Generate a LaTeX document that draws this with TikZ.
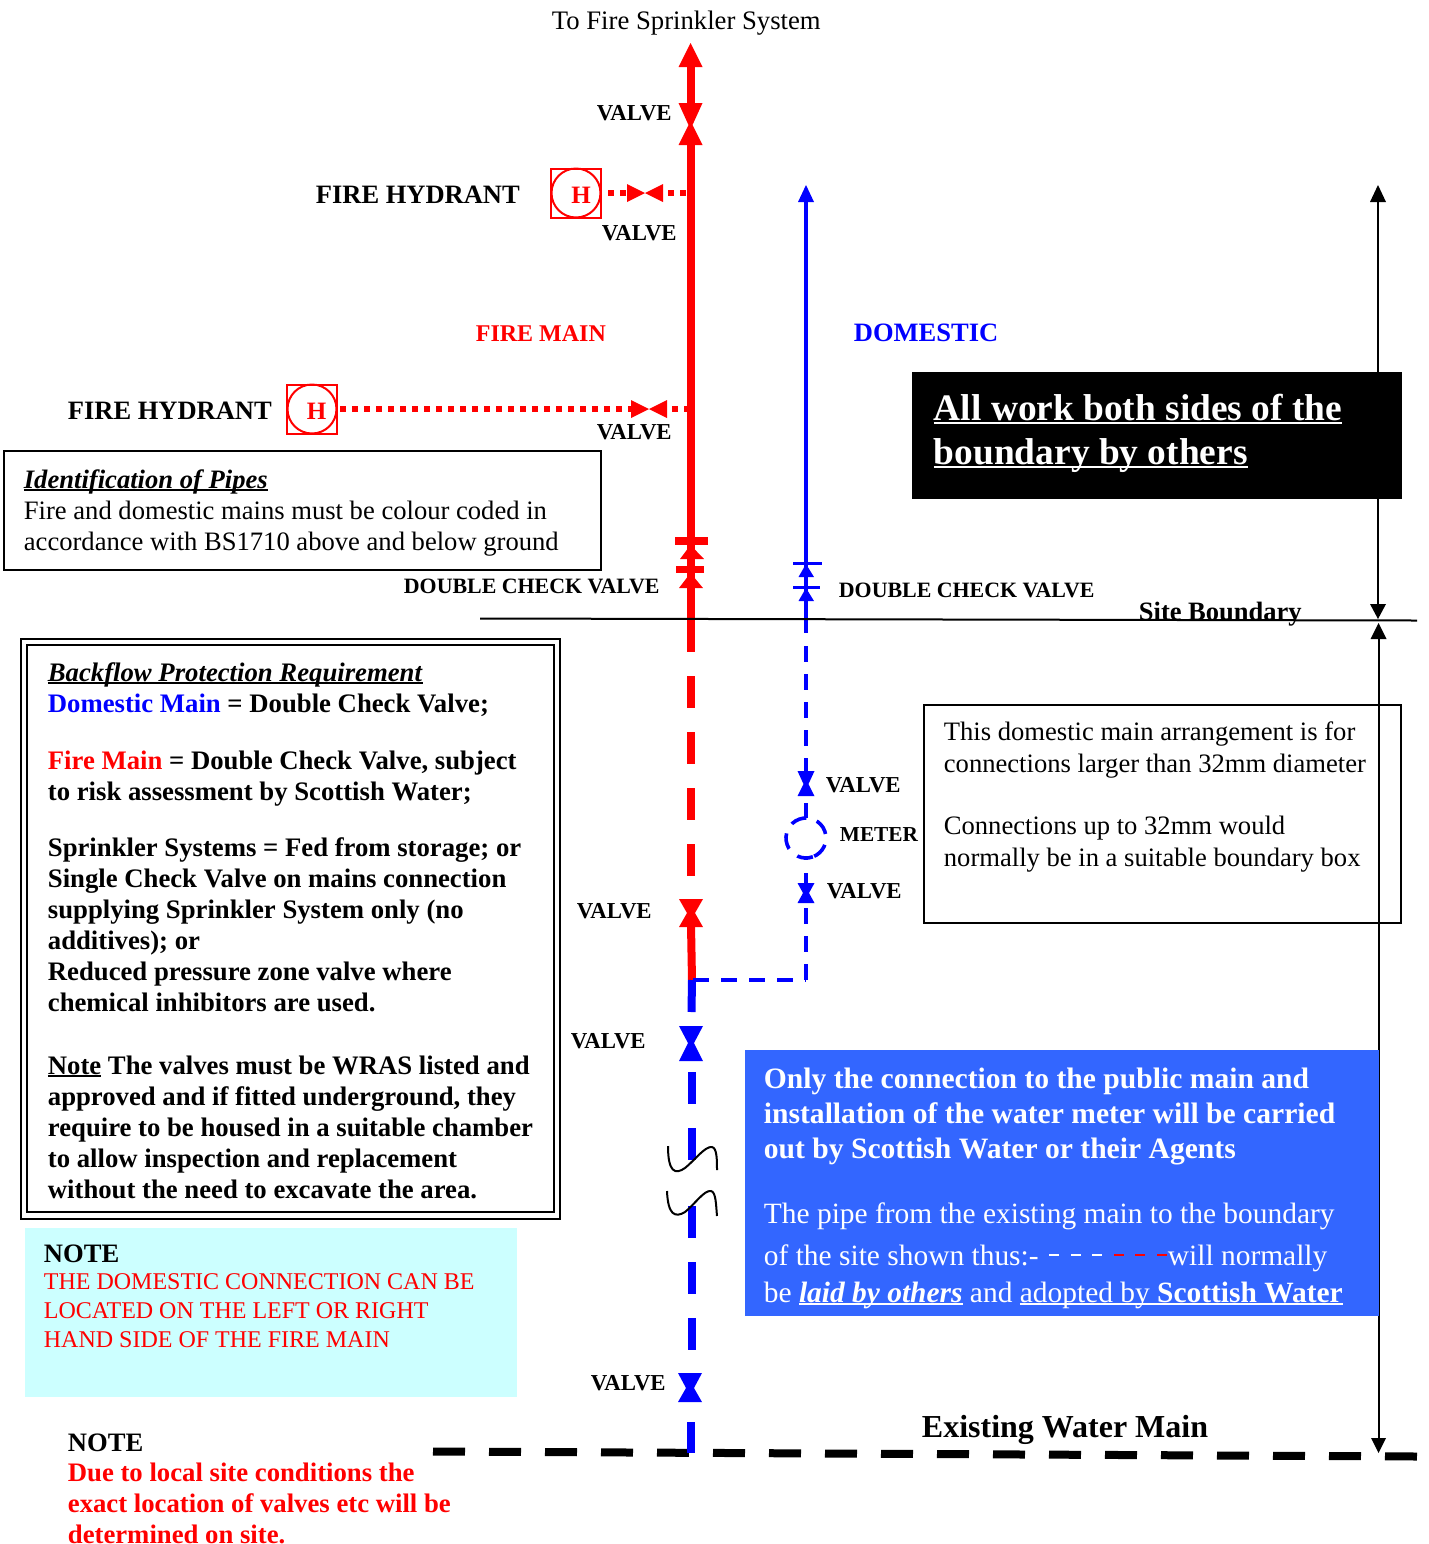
\documentclass[tikz,border=0pt]{standalone}
\usepackage{fontspec}
\setmainfont{Liberation Serif}
\definecolor{fblue}{HTML}{0000FF}
\definecolor{fred}{HTML}{FF0000}
\definecolor{panelblue}{HTML}{3366FF}
\definecolor{panelcyan}{HTML}{CCFFFF}
\newcommand\myul[2][1.6pt]{\setbox0\hbox{#2}\rlap{\rule[-#1]{\wd0}{1pt}}\box0\relax}
% hourglass: x, top y, waist y, bottom y, half width, waist half width, colour
\newcommand\valveshape[7]{\fill[#7] (#1-#5,#2) -- (#1+#5,#2) -- (#1+#6,#3) -- (#1+#5,#4) -- (#1-#5,#4) -- (#1-#6,#3) -- cycle;}
\tikzset{
  lbl/.style={inner sep=0pt,anchor=base west,font=\fontsize{11.4}{14}\selectfont\bfseries},
  dcvlbl/.style={inner sep=0pt,anchor=base west,font=\fontsize{10.95}{14}\selectfont\bfseries},
  big/.style={inner sep=0pt,anchor=base west,font=\fontsize{13.25}{15.5}\selectfont\bfseries},
  body/.style={inner sep=0pt,anchor=base west,align=left,font=\fontsize{13.3}{15.5}\selectfont},
  notebody/.style={inner sep=0pt,anchor=base west,align=left,font=\fontsize{13.3}{16}\selectfont},
  bodybf/.style={inner sep=0pt,anchor=base west,align=left,font=\fontsize{13.36}{15.5}\selectfont\bfseries},
  panelbf/.style={inner sep=0pt,anchor=base west,align=left,text=white,font=\fontsize{14.8}{17.3}\selectfont\bfseries},
  panelrm/.style={inner sep=0pt,anchor=base west,text=white,font=\fontsize{14.72}{17}\selectfont},
  redmain/.style={draw=fred,line width=4pt},
  bluemain/.style={draw=fblue,line width=4pt},
  bluedash/.style={draw=fblue,line width=2pt,dash pattern=on 8pt off 6pt},
  dots/.style={draw=fred,line width=3pt,dash pattern=on 3pt off 3pt},
  reddash/.style={draw=fred,line width=4pt,dash pattern=on 16pt off 12pt},
  bigblue/.style={draw=fblue,line width=4pt,dash pattern=on 16pt off 12pt},
  squig/.style={draw=black,line width=1pt},
}
\begin{document}
\begin{tikzpicture}[x=0.5pt,y=-0.5pt]
\useasboundingbox (0,0) rectangle (1429,1544);
% pipes: fire main
\coordinate (rt) at (690.5,60);
\coordinate (rv1) at (690.5,103);
\draw[redmain] (rt) -- (rv1);
\fill[fred] (690.5,43) -- (702.5,67) -- (678.5,67) -- cycle;
\valveshape{690.5}{103}{125}{145}{12}{2}{fred}
\draw[redmain] (690.5,140) -- (690.5,652);
\fill[fred] (675,537) rectangle (708,545);
\fill[fred] (690.5,545) -- (704,559) -- (680,559) -- cycle;
\fill[fred] (676,566) rectangle (704,573);
\fill[fred] (690.5,573) -- (703,588) -- (679,588) -- cycle;
\draw[reddash] (690.5,676) -- (690.5,880);
\valveshape{691}{899}{913}{927}{12}{4}{fred}
\draw[redmain] (691,925) -- (692,980);
% blue main
\draw[bluemain] (692,980) -- (691.5,1012);
\valveshape{691}{1026}{1043}{1061}{12}{3}{fblue}
\draw[bigblue] (692,1072) -- (692,1160);
\draw[bigblue] (692,1206) -- (692,1350);
\valveshape{690}{1373}{1388}{1402}{12}{4}{fblue}
\draw[draw=black,line width=4pt,dash pattern=on 16pt off 12pt] (433,1451.5) -- (1417,1456.5);
\draw[bluemain] (691,1422) -- (691,1453);
% domestic
\fill[fblue] (806,185) -- (814,202) -- (798,202) -- cycle;
\draw[fblue,line width=2pt] (806,198) -- (806,633);
\fill[fblue] (793,561.5) rectangle (822,565);
\fill[fblue] (806,564) -- (814,577) -- (798.5,577) -- cycle;
\fill[fblue] (793,585.5) rectangle (820,589);
\fill[fblue] (806,588) -- (814,601) -- (798.5,601) -- cycle;
\draw[bluedash] (806,646) -- (806,772);
\valveshape{806}{771}{784}{796}{8.5}{2.5}{fblue}
\draw[fblue,line width=2pt] (806,803) -- (806,818);
\draw[fblue,line width=1.8pt,dash pattern=on 8pt off 5.5pt] (806,838) ++(70:20) arc (70:430:20);
\draw[fblue,line width=2pt] (806,856) -- (806,860);
\draw[fblue,line width=2pt] (806,873) -- (806,884);
\valveshape{806}{883}{893}{903}{8.5}{3}{fblue}
\draw[bluedash] (806,908) -- (806,980);
\draw[fblue,line width=2pt,dash pattern=on 8pt off 6pt] (693,980) -- (806,980);
% hydrants
\node[draw=fred,line width=1pt,minimum width=25pt,minimum height=24.5pt,inner sep=0pt] (hb1) at (576,193) {};
\node[draw=fred,line width=1pt,circle,minimum size=24.5pt,inner sep=0pt] (hc1) at (576,193) {};
\node[anchor=base west,inner sep=0pt,text=fred,font=\fontsize{12.5}{14}\selectfont\bfseries] (h1) at (571,203) {H};
\draw[dots] (608,193) -- (627,193);
\fill[fred] (627,184) -- (645,193) -- (627,202) -- cycle;
\fill[fred] (663,184) -- (645,193) -- (663,202) -- cycle;
\draw[dots] (668,193) -- (688,193);
\node[draw=fred,line width=1pt,minimum width=25pt,minimum height=24.5pt,inner sep=0pt] (hb2) at (312,409) {};
\node[draw=fred,line width=1pt,circle,minimum size=24.5pt,inner sep=0pt] (hc2) at (312,409) {};
\node[anchor=base west,inner sep=0pt,text=fred,font=\fontsize{12.5}{14}\selectfont\bfseries] (h2) at (306.5,419) {H};
\draw[dots] (340,409) -- (631,409);
\fill[fred] (631,400) -- (649,409) -- (631,418) -- cycle;
\fill[fred] (667,400) -- (649,409) -- (667,418) -- cycle;
\draw[dots] (672,409) -- (688,409);
% boundary & dimension arrows
\draw[black,line width=1pt] (480,618.5) -- (1417,620.5);
\draw[black,line width=1pt] (1378,195) -- (1378,610);
\fill[black] (1378,185) -- (1386,202) -- (1370,202) -- cycle;
\fill[black] (1370,604) -- (1386,604) -- (1378,619) -- cycle;
\draw[black,line width=1pt] (1378.5,630) -- (1378.5,1445);
\fill[black] (1378.5,623) -- (1386.5,639) -- (1370.5,639) -- cycle;
\fill[black] (1371,1438) -- (1386,1438) -- (1378.5,1453) -- cycle;
% break symbols
\draw[squig] (668,1146) .. controls (668,1172) and (675,1175) .. (685,1168) .. controls (695,1160) and (705,1146) .. (712,1147) .. controls (717,1148) and (717,1160) .. (717,1170);
\draw[squig] (667,1191) .. controls (668,1215) and (675,1218) .. (685,1212) .. controls (695,1204) and (704,1190) .. (711,1191) .. controls (716,1192) and (716,1205) .. (717,1216);
% panels
\node[draw=black,line width=1pt,fill=white,anchor=north west,minimum width=298.5pt,minimum height=59.5pt,inner sep=0pt] (idbox) at (3,450) {};
\node[fill=black,anchor=north west,minimum width=245pt,minimum height=63.5pt,inner sep=0pt] (blackbox) at (912,372) {};
\node[draw=black,line width=1.2pt,fill=white,anchor=north west,minimum width=269.5pt,minimum height=290pt,inner sep=0pt] (bfo) at (20,638) {};
\node[draw=black,line width=1.2pt,anchor=north west,minimum width=263.5pt,minimum height=283.5pt,inner sep=0pt] (bfi) at (26,644) {};
\node[draw=black,line width=1pt,anchor=north west,minimum width=238.5pt,minimum height=109pt,inner sep=0pt] (notebox) at (923,704) {};
\node[fill=panelblue,anchor=north west,minimum width=317pt,minimum height=133pt,inner sep=0pt] (bluebox) at (745,1050) {};
\node[fill=panelcyan,anchor=north west,minimum width=246pt,minimum height=84.5pt,inner sep=0pt] (cyanbox) at (25,1228) {};
% labels
\node[inner sep=0pt,anchor=base west,font=\fontsize{13.35}{15.5}\selectfont] (totop) at (551.5,29) {To Fire Sprinkler System};
\node[lbl] (v1) at (596.5,120) {VALVE};
\node[lbl] (v2) at (601.5,240) {VALVE};
\node[lbl] (v3) at (596.5,439) {VALVE};
\node[lbl] (v4) at (576.5,918) {VALVE};
\node[lbl] (v5) at (570.5,1048) {VALVE};
\node[lbl] (v6) at (590.5,1390) {VALVE};
\node[lbl] (v7) at (825.5,792) {VALVE};
\node[lbl] (v8) at (826.5,898) {VALVE};
\node[inner sep=0pt,anchor=base west,font=\fontsize{10.65}{14}\selectfont\bfseries] (meter) at (839.5,841) {METER};
\node[big] (fh1) at (315.5,203) {FIRE HYDRANT};
\node[big] (fh2) at (67.5,419) {FIRE HYDRANT};
\node[inner sep=0pt,anchor=base west,text=fred,font=\fontsize{12}{14}\selectfont\bfseries] (firemain) at (475.5,341) {FIRE MAIN};
\node[big,text=fblue] (domestic) at (853.5,341) {DOMESTIC};
\node[dcvlbl] (dcv1) at (403.5,593) {DOUBLE CHECK VALVE};
\node[dcvlbl] (dcv2) at (838.5,597) {DOUBLE CHECK VALVE};
\node[big] (site) at (1138.5,620) {Site Boundary};
\node[inner sep=0pt,anchor=base west,font=\fontsize{16}{18}\selectfont\bfseries] (ewm) at (921.5,1437) {Existing Water Main};
% text blocks (the base of a multi-line node is its last line)
\node[inner sep=0pt,anchor=base west,align=left,text=white,font=\fontsize{18.7}{22}\selectfont\bfseries] (bt) at (933.5,464) {\myul[2pt]{All work both sides of the}\\\myul[2pt]{boundary by others}};
\node[body] (idt) at (23.5,550) {\myul{\textbf{\textit{Identification of Pipes}}}\\Fire and domestic mains must be colour coded in\\accordance with BS1710 above and below ground};
\node[notebody] (nt) at (943.5,866) {This domestic main arrangement is for\\connections larger than 32mm diameter\\[15pt]Connections up to 32mm would\\normally be in a suitable boundary box};
\node[bodybf] (bf) at (47.5,1198) {\myul{\textit{Backflow Protection Requirement}}\\\textcolor{fblue}{Domestic Main} = Double Check Valve;\\[13pt]\textcolor{fred}{Fire Main} = Double Check Valve, subject\\to risk assessment by Scottish Water;\\[12.5pt]Sprinkler Systems = Fed from storage; or\\Single Check Valve on mains connection\\supplying Sprinkler System only (no\\additives); or\\Reduced pressure zone valve where\\chemical inhibitors are used.\\[16pt]\myul{Note} The valves must be WRAS listed and\\approved and if fitted underground, they\\require to be housed in a suitable chamber\\to allow inspection and replacement\\without the need to excavate the area.};
\node[panelbf] (bb1) at (763.5,1158) {Only the connection to the public main and\\installation of the water meter will be carried\\out by Scottish Water or their Agents};
\node[panelrm] (bb2) at (763.5,1223) {The pipe from the existing main to the boundary};
\node[panelrm] (bb3) at (763.5,1265) {of the site shown thus:-};
\node[panelrm] (bb3b) at (1167.5,1265) {will normally};
\node[panelrm] (bb4) at (763.5,1302) {be \myul{\textbf{\textit{laid by others}}} and \myul{adopted by \textbf{Scottish Water}}};
\foreach \x in {1049,1071,1092} \draw[white,line width=1.4pt] (\x,1255) -- ++(10,0);
\foreach \x in {1114,1135,1157} \draw[red,line width=1.4pt] (\x,1255) -- ++(10,0);
\node[inner sep=0pt,anchor=base west,font=\fontsize{13.3}{15}\selectfont\bfseries] (n1) at (43.5,1262) {NOTE};
\node[inner sep=0pt,anchor=base west,align=left,text=fred,font=\fontsize{12}{14.5}\selectfont] (n1t) at (43.5,1347.5) {THE DOMESTIC CONNECTION CAN BE\\LOCATED ON THE LEFT OR RIGHT\\HAND SIDE OF THE FIRE MAIN};
\node[inner sep=0pt,anchor=base west,font=\fontsize{13.3}{15}\selectfont\bfseries] (n2) at (67.5,1451) {NOTE};
\node[bodybf,text=fred] (n2t) at (67.5,1543) {Due to local site conditions the\\exact location of valves etc will be\\determined on site.};
\end{tikzpicture}
\end{document}
